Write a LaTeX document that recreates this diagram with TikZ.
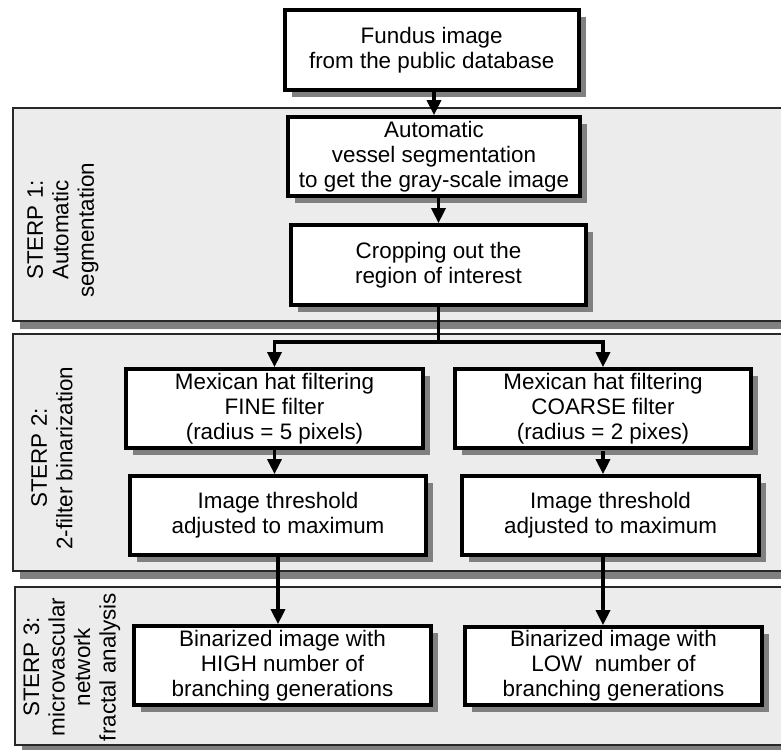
\documentclass[tikz,border=0pt]{standalone}
\usepackage{fontspec}
\setmainfont{Liberation Sans}
\usetikzlibrary{arrows.meta,shadows}
\definecolor{panelfill}{RGB}{236,236,236}
\definecolor{shadowgray}{RGB}{128,128,128}
\definecolor{panelline}{RGB}{40,40,40}
\begin{document}
\begin{tikzpicture}[x=1pt,y=-1pt,
  box/.style={draw=black, line width=3.7pt, fill=white, inner sep=0pt, align=center,
    font=\fontsize{22.4}{25}\selectfont, minimum width=296pt, minimum height=80pt,
    drop shadow={shadow xshift=7pt, shadow yshift=-7pt, fill=shadowgray, opacity=1}},
  panel/.style={draw=panelline, line width=1.8pt, fill=panelfill},
  pshadow/.style={fill=shadowgray},
  lbl/.style={rotate=90, align=center, font=\fontsize{22.4}{25.5}\selectfont},
  arr/.style={line width=3.4pt, -{Triangle[width=14pt,length=15pt]}},
  ln/.style={line width=3.4pt}]
\useasboundingbox (0,0) rectangle (781,749);
\clip (0,0) rectangle (781,749);
\fill[white] (0,0) rectangle (781,749);
% panels
\fill[pshadow] (20,116) rectangle (800,329);
\draw[panel] (13,108) rectangle (800,321);
\fill[pshadow] (20,342) rectangle (800,579);
\draw[panel] (13,334) rectangle (800,571);
\fill[pshadow] (22,595) rectangle (800,753);
\draw[panel] (15,587) rectangle (800,745);
% panel labels
\node[lbl] (l1) at (63,230) {STERP 1:\\Automatic\\segmentation};
\node[lbl] (l2) at (52,458) {STERP 2:\\2-filter binarization};
\node[lbl] (l3) at (72,667) {STERP 3:\\microvascular\\network\\fractal analysis};
% boxes
\node[box, minimum width=294pt, minimum height=80pt] (top) at (431.7,50) {Fundus image\\from the public database};
\node[box, minimum width=292pt, minimum height=79pt] (b2) at (434,156.5) {Automatic\\vessel segmentation\\to get the gray-scale image};
\node[box, minimum width=295pt, minimum height=80pt] (b3) at (438.5,265) {Cropping out the\\region of interest};
\node[box, minimum width=297pt, minimum height=79pt] (fine) at (274.5,408.5) {Mexican hat filtering\\FINE filter\\(radius = 5 pixels)};
\node[box, minimum width=296pt, minimum height=79pt] (coarse) at (603,408.5) {Mexican hat filtering\\COARSE filter\\(radius = 2 pixes)};
\node[box, minimum width=296pt, minimum height=79pt] (thrL) at (278,515.5) {Image threshold\\adjusted to maximum};
\node[box, minimum width=297pt, minimum height=79pt] (thrR) at (610.5,515.5) {Image threshold\\adjusted to maximum};
\node[box, minimum width=297pt, minimum height=79pt] (high) at (282.5,665.5) {Binarized image with\\HIGH number of\\branching generations};
\node[box, minimum width=297pt, minimum height=78pt] (low) at (613.5,666) {Binarized image with\\LOW\ \ number of\\branching generations};
% connectors
\draw[arr] (b2.north |- top.south) -- (b2.north);
\draw[arr] (b2.south -| b3.north) -- (b3.north);
\draw[ln] (b3.south) -- ++(0,35) coordinate (split);
\draw[arr] ([xshift=1.7pt]split) -| (fine.north);
\draw[arr] ([xshift=-1.7pt]split) -| (coarse.north);
\draw[arr] (fine.south) -- (fine.south |- thrL.north);
\draw[arr] (coarse.south |- thrR.north) ++(0,-23) -- (coarse.south |- thrR.north);
\draw[arr] (thrL.south) -- (thrL.south |- high.north);
\draw[arr] (coarse.south |- thrR.south) -- (coarse.south |- low.north);
\end{tikzpicture}
\end{document}
